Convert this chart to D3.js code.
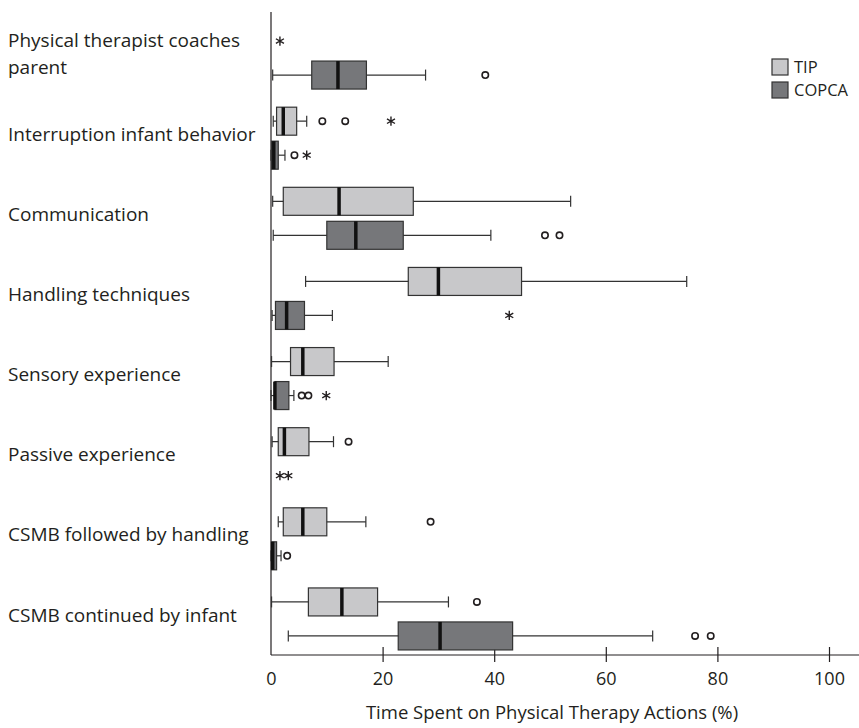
<!DOCTYPE html>
<html>
<head>
<meta charset="utf-8">
<script src="https://cdn.jsdelivr.net/npm/d3@7"></script>
<style>
  body { margin: 0; background: #fff; }
  svg text { font-family: "Open Sans", sans-serif; fill: #231f20; }
</style>
</head>
<body>
<svg id="chart"></svg>
<script>
'use strict';

var width = 859,
    height = 728;

var categories = [
  'Physical therapist coaches parent',
  'Interruption infant behavior',
  'Communication',
  'Handling techniques',
  'Sensory experience',
  'Passive experience',
  'CSMB followed by handling',
  'CSMB continued by infant'
];
var groups = ['TIP', 'COPCA'];

// [low whisker, q1, median, q3, high whisker] per category
var tipBoxes = [
  null,
  [0.4, 1.0, 2.2, 4.6, 6.4],
  [0.3, 2.2, 12.2, 25.5, 53.7],
  [6.2, 24.6, 30.0, 44.9, 74.5],
  [0.1, 3.5, 5.7, 11.3, 21.0],
  [0.2, 1.3, 2.4, 6.8, 11.2],
  [1.3, 2.2, 5.7, 10.0, 17.0],
  [0.1, 6.7, 12.7, 19.1, 31.8]
];
var copcaBoxes = [
  [0.3, 7.3, 12.0, 17.1, 27.7],
  [0.0, 0.1, 0.5, 1.3, 2.5],
  [0.4, 10.0, 15.2, 23.7, 39.4],
  [0.2, 0.8, 2.8, 6.0, 11.0],
  [0.0, 0.7, 0.7, 3.2, 4.1],
  null,
  [0.0, 0.1, 0.3, 1.0, 1.8],
  [3.1, 22.8, 30.3, 43.3, 68.4]
];
var tipOutliers = [[], [9.2, 13.3], [], [], [], [13.9], [28.6], [36.9]];
var tipExtremes = [[1.6], [21.5], [], [], [], [], [], []];
var copcaOutliers = [[38.4], [4.2], [49.1, 51.7], [], [5.5, 6.7], [], [2.9], [76.0, 78.8]];
var copcaExtremes = [[], [6.4], [], [42.7], [9.9], [1.6, 3.1], [], []];

var xTicks = [0, 20, 40, 60, 80, 100];

var fills = { TIP: '#c8c8ca', COPCA: '#76777a' };

var margin = { left: 271, top: 18, axisY: 655 };

var x = d3.scaleLinear().domain([0, 100]).range([margin.left, 829]);
var y = d3.scaleBand().domain(categories).range([margin.top, 659]);
var yGroup = d3.scalePoint().domain(groups).range([-17, 17]);
var boxH = 28, capH = 11;

var svg = d3.select('#chart')
  .attr('width', width)
  .attr('height', height);

var rows = [];
categories.forEach((c, i) => {
  rows.push({ cat: c, group: 'TIP', box: tipBoxes[i], outliers: tipOutliers[i], extremes: tipExtremes[i] });
  rows.push({ cat: c, group: 'COPCA', box: copcaBoxes[i], outliers: copcaOutliers[i], extremes: copcaExtremes[i] });
});
rows.forEach(r => { r.cy = y(r.cat) + y.bandwidth() / 2 + yGroup(r.group); });

// axes
svg.append('line')
  .attr('x1', margin.left).attr('x2', margin.left)
  .attr('y1', 12).attr('y2', margin.axisY)
  .attr('stroke', '#231f20').attr('stroke-width', 1.2);
svg.append('line')
  .attr('x1', margin.left).attr('x2', width)
  .attr('y1', margin.axisY).attr('y2', margin.axisY)
  .attr('stroke', '#231f20').attr('stroke-width', 1.2);

var xAxis = svg.append('g')
  .attr('transform', 'translate(0,' + margin.axisY + ')')
  .call(d3.axisBottom(x).tickValues(xTicks).tickSize(7).tickPadding(10));
xAxis.select('.domain').remove();
xAxis.selectAll('.tick line')
  .attr('y1', -8)
  .attr('stroke', '#231f20')
  .attr('stroke-width', 1.2)
  .filter(d => d === 0).remove();
xAxis.selectAll('.tick text')
  .attr('font-size', 18)
  .attr('font-family', '"Open Sans", sans-serif')
  .attr('fill', '#231f20');

svg.append('text')
  .attr('x', 552)
  .attr('y', 719)
  .attr('text-anchor', 'middle')
  .attr('font-size', 18.5)
  .text('Time Spent on Physical Therapy Actions (%)');

// category labels
var labels = svg.append('g').selectAll('text')
  .data(categories)
  .enter()
  .append('text')
  .attr('x', 8)
  .attr('y', d => y(d) + y.bandwidth() / 2 - 4)
  .attr('font-size', 19)
  .attr('dy', '0.35em');
labels.each(function(d, i) {
  var t = d3.select(this);
  if (i === 0) {
    t.attr('dy', null);
    t.append('tspan').attr('x', 8).attr('dy', '-0.37em').text('Physical therapist coaches');
    t.append('tspan').attr('x', 8).attr('dy', '1.42em').text('parent');
  } else {
    t.text(d);
  }
});

// boxes
var boxRows = svg.append('g').selectAll('g')
  .data(rows.filter(r => r.box))
  .enter()
  .append('g');

boxRows.append('line')
  .attr('x1', d => x(d.box[0])).attr('x2', d => x(d.box[4]))
  .attr('y1', d => d.cy).attr('y2', d => d.cy)
  .attr('stroke', '#333').attr('stroke-width', 1.2);
boxRows.append('line')
  .attr('x1', d => x(d.box[0])).attr('x2', d => x(d.box[0]))
  .attr('y1', d => d.cy - capH / 2).attr('y2', d => d.cy + capH / 2)
  .attr('stroke', '#333').attr('stroke-width', 1.2);
boxRows.append('line')
  .attr('x1', d => x(d.box[4])).attr('x2', d => x(d.box[4]))
  .attr('y1', d => d.cy - capH / 2).attr('y2', d => d.cy + capH / 2)
  .attr('stroke', '#333').attr('stroke-width', 1.2);
boxRows.append('rect')
  .attr('x', d => x(d.box[1]))
  .attr('width', d => x(d.box[3]) - x(d.box[1]))
  .attr('y', d => d.cy - boxH / 2)
  .attr('height', boxH)
  .attr('fill', d => fills[d.group])
  .attr('stroke', '#333').attr('stroke-width', 1.2);
boxRows.append('line')
  .attr('x1', d => x(d.box[2])).attr('x2', d => x(d.box[2]))
  .attr('y1', d => d.cy - boxH / 2).attr('y2', d => d.cy + boxH / 2)
  .attr('stroke', '#111').attr('stroke-width', 3.5);

// outliers
var outs = [];
rows.forEach(r => {
  r.outliers.forEach(v => outs.push({ v: v, cy: r.cy }));
});
svg.append('g').selectAll('circle')
  .data(outs)
  .enter()
  .append('circle')
  .attr('cx', d => x(d.v))
  .attr('cy', d => d.cy)
  .attr('r', 3.2)
  .attr('fill', 'none')
  .attr('stroke', '#231f20')
  .attr('stroke-width', 1.6);

var extremes = [];
rows.forEach(r => {
  r.extremes.forEach(v => extremes.push({ v: v, cy: r.cy }));
});
var star = d3.symbol().type(d3.symbolAsterisk || d3.symbolCross).size(60);
svg.append('g').selectAll('path')
  .data(extremes)
  .enter()
  .append('path')
  .attr('d', star)
  .attr('transform', d => 'translate(' + x(d.v) + ',' + d.cy + ')')
  .attr('fill', 'none')
  .attr('stroke', '#231f20')
  .attr('stroke-width', 1.4);

// legend
var legend = svg.append('g').selectAll('g')
  .data(groups)
  .enter()
  .append('g')
  .attr('transform', (d, i) => 'translate(772,' + (59 + i * 23) + ')');
legend.append('rect')
  .attr('width', 16).attr('height', 16)
  .attr('fill', d => fills[d])
  .attr('stroke', '#333').attr('stroke-width', 1.2);
legend.append('text')
  .attr('x', 22).attr('y', 8).attr('dy', '0.36em')
  .attr('font-size', 16.5)
  .text(d => d);
</script>
</body>
</html>
